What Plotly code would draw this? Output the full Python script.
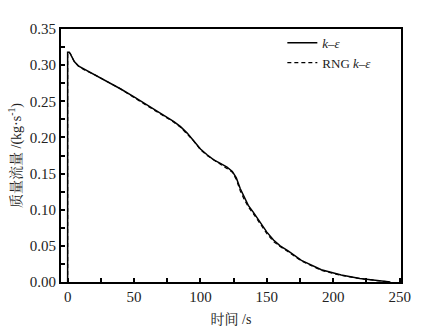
import plotly.graph_objects as go

# k-epsilon model
t_ke = [0, 0, 1, 2, 3, 5, 8, 12, 20, 30, 40, 50, 60, 70, 80, 85, 90, 95, 100, 105, 110,
        115, 120, 124, 127, 130, 133, 136, 140, 145, 150, 155, 160, 166, 176, 191, 206,
        220, 230, 240, 243]
q_ke = [0, 0.318, 0.318, 0.316, 0.312, 0.305, 0.299, 0.295, 0.288, 0.278, 0.267, 0.256,
        0.245, 0.233, 0.222, 0.215, 0.206, 0.195, 0.184, 0.176, 0.169, 0.164, 0.159,
        0.153, 0.144, 0.129, 0.117, 0.106, 0.096, 0.082, 0.069, 0.058, 0.050, 0.043,
        0.030, 0.017, 0.0097, 0.005, 0.0025, 0.0005, 0.0]

# RNG k-epsilon model
t_rng = [0, 0, 1, 2, 3, 5, 8, 12, 20, 30, 40, 50, 60, 70, 80, 85, 90, 95, 100, 105, 110,
         115, 120, 124, 127, 130, 133, 136, 140, 145, 150, 155, 160, 166, 176, 191, 206,
         220, 230, 240, 243]
q_rng = [0, 0.318, 0.318, 0.316, 0.312, 0.305, 0.299, 0.294, 0.287, 0.277, 0.267, 0.255,
         0.244, 0.232, 0.221, 0.214, 0.205, 0.195, 0.183, 0.175, 0.169, 0.163, 0.158,
         0.152, 0.142, 0.126, 0.114, 0.104, 0.094, 0.080, 0.067, 0.056, 0.049, 0.042,
         0.029, 0.016, 0.0092, 0.0048, 0.0022, 0.0004, 0.0]

x_ticks = [0, 50, 100, 150, 200, 250]
y_ticks = [0.00, 0.05, 0.10, 0.15, 0.20, 0.25, 0.30, 0.35]

serif = "Liberation Serif, Noto Serif CJK SC, Noto Sans CJK SC, serif"

fig = go.Figure()
fig.add_trace(go.Scatter(x=t_ke, y=q_ke, mode="lines", name="<i>k</i>–<i>ε</i>",
                         line=dict(color="black", width=1.5)))
fig.add_trace(go.Scatter(x=t_rng, y=q_rng, mode="lines", name="RNG <i>k</i>–<i>ε</i>",
                         line=dict(color="black", width=1.2, dash="4px,3px")))

axis_common = dict(showline=True, linecolor="black", linewidth=2, mirror=True,
                   ticks="inside", ticklen=4, tickwidth=1.5, tickcolor="black",
                   showgrid=False, zeroline=False, automargin=False,
                   tickfont=dict(family=serif, size=15, color="#222"))

fig.update_xaxes(range=[-5, 251], tickvals=x_ticks, ticktext=[str(v) for v in x_ticks],
                 minor=dict(dtick=25, tick0=0, ticks="inside", ticklen=4, tickwidth=1.5,
                            tickcolor="black"),
                 title=dict(text="时间 /s", font=dict(family=serif, size=14, color="#222"),
                            standoff=10),
                 **axis_common)
fig.update_yaxes(range=[0, 0.35], tickvals=y_ticks, ticktext=[f"{v:.2f}" for v in y_ticks],
                 minor=dict(dtick=0.025, tick0=0, ticks="inside", ticklen=4, tickwidth=1.5,
                            tickcolor="black"),
                 title=dict(text="质量流量 /(kg·s<sup>-1</sup>)",
                            font=dict(family=serif, size=14, color="#222"), standoff=5),
                 **axis_common)

fig.update_layout(
    width=421, height=332,
    margin=dict(l=61, r=20, t=29, b=50, autoexpand=False),
    paper_bgcolor="white", plot_bgcolor="white",
    showlegend=True,
    legend=dict(x=0.651, y=1.005, xanchor="left", yanchor="top",
                bgcolor="rgba(0,0,0,0)", itemwidth=30, tracegroupgap=0,
                font=dict(family=serif, size=13, color="#222")),
)

fig.write_html("out.html", config={"displayModeBar": False},
               post_script="document.body.style.margin='0';")
